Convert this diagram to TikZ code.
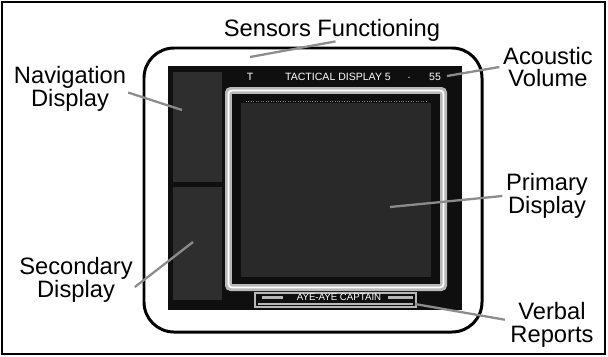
\documentclass[tikz,border=0pt]{standalone}
\usepackage{fontspec}
\setmainfont{Liberation Sans}
\usepackage{tikz}

\definecolor{screenblack}{gray}{0.06}
\definecolor{panelgray}{gray}{0.18}
\definecolor{ringgray}{gray}{0.72}
\definecolor{leadgray}{gray}{0.55}

\tikzset{
  label/.style={align=center,inner sep=0pt,font=\fontsize{13.5}{13}\selectfont},
  screentext/.style={inner sep=0pt,text=white,font=\fontsize{6}{6}\selectfont},
  leader/.style={leadgray,line width=1.3pt}
}

\begin{document}
\begin{tikzpicture}[x=0.02cm,y=-0.02cm]
		\useasboundingbox (0,0) rectangle (608,356);
		%Marco
		\draw[line width=1.2pt] (2,2) rectangle (605,354);
		\draw[line width=1.7pt,rounded corners=0.6cm] (144,48) rectangle (482,332);

		%Pantalla
		\fill[screenblack] (168,66) rectangle (462,310);
		\fill[panelgray] (173,72) rectangle (222,182);
		\fill[panelgray] (173,187) rectangle (222,300);
		\fill[ringgray,rounded corners=3pt] (225,87) rectangle (447,291);
		\draw[white,line width=1pt,rounded corners=2pt] (228.5,90.5) rectangle (443.5,287.5);
		\fill[screenblack] (232,94) rectangle (440,284);
		\fill[panelgray!90!black] (241,103) rectangle (431,277);
		\draw[gray,densely dotted] (246,101) -- (426,101);

		%Barra de mensajes
		\draw[ringgray,line width=1pt] (255,293) rectangle (416,307);
		\fill[ringgray] (262,296) rectangle (283,299);
		\fill[ringgray] (388,296) rectangle (413,299);
		\draw[ringgray,line width=0.8pt] (258,304) -- (413,304);

		%Textos de pantalla
		\node [screentext] (tmark) at (250,77) {T};
		\node [screentext] (tactical) at (338,77) {TACTICAL DISPLAY 5};
		\node [screentext] (tdot) at (409,78) {.};
		\node [screentext] (volume) at (435,77) {55};
		\node [screentext,font=\fontsize{5.5}{5.5}\selectfont] (captain) at (339,297) {AYE-AYE CAPTAIN};

		%Etiquetas
		\node [label] (sensors) at (332,30) {Sensors Functioning};
		\node [label] (navigation) at (70,89) {Navigation\\Display};
		\node [label] (secondary) at (76,280) {Secondary\\Display};
		\node [label] (acoustic) at (548,67) {Acoustic\\Volume};
		\node [label] (primary) at (547,196) {Primary\\Display};
		\node [label] (verbal) at (552,325) {Verbal\\Reports};

		%Puntos
		\coordinate (sensorspt) at (250,57);
		\coordinate (navigationpt) at (182,110);
		\coordinate (secondarypt) at (193,242);
		\coordinate (acousticpt) at (447,76);
		\coordinate (primarypt) at (390,207);
		\coordinate (verbalpt) at (415,304);

		%Lineas
		\draw[leader] ([xshift=2pt]sensors.south) -- (sensorspt);
		\draw[leader] ([xshift=1pt,yshift=-2pt]navigation.east) -- (navigationpt);
		\draw[leader] ([xshift=1pt,yshift=-4pt]secondary.east) -- (secondarypt);
		\draw[leader] ([xshift=-2pt]acoustic.west) -- (acousticpt);
		\draw[leader] ([xshift=-2pt]primary.west) -- (primarypt);
		\draw[leader] ([xshift=-3pt,yshift=3pt]verbal.west) -- (verbalpt);
\end{tikzpicture}
\end{document}
